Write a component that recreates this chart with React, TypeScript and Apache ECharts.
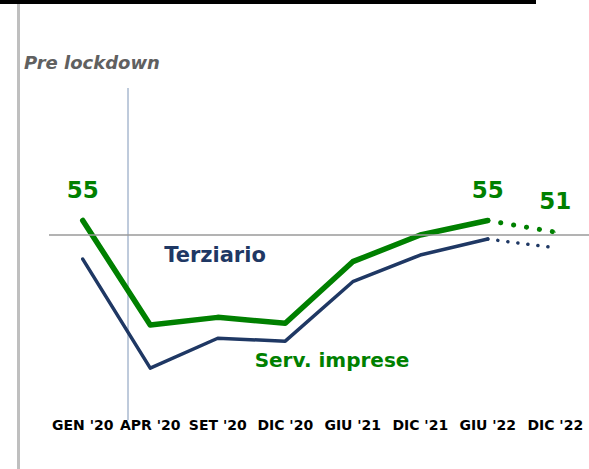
import React, { useEffect, useRef } from "react";
import * as echarts from "echarts";

const categories = ["GEN '20", "APR '20", "SET '20", "DIC '20", "GIU '21", "DIC '21", "GIU '22", "DIC '22"];
const servImprese = [55, 19, 21.6, 19.6, 40.8, 50, 55, 51];
const terziario = [41.7, 4.1, 14.4, 13.4, 33.9, 43.1, 48.6, 45.6];
const labelledPoints = [0, 6, 7];
const forecastFrom = 6;
const preLockdownLevel = 50;

const GREEN = "#008000";
const NAVY = "#1f3864";
const FONT = "DejaVu Sans";

function split(values: number[], solid: boolean, withLabels: boolean) {
  return values.map((v, i) => {
    const inPart = solid ? i <= forecastFrom : i >= forecastFrom;
    if (!inPart) return null;
    const showLabel =
      withLabels &&
      labelledPoints.includes(i) &&
      (solid ? i <= forecastFrom : i > forecastFrom);
    return { value: v, label: { show: showLabel } };
  });
}

export default function App() {
  const ref = useRef<HTMLDivElement>(null);
  useEffect(() => {
    if (!ref.current) return;
    const chart = echarts.init(ref.current, null, { renderer: "svg" });
    const greenLabel = {
      show: false,
      position: "top",
      distance: 19,
      color: GREEN,
      fontFamily: FONT,
      fontWeight: "bold",
      fontSize: 23,
      formatter: (p: any) => String(Math.round(p.value)),
    };
    chart.setOption({
      animation: false,
      grid: { left: 49, right: 0, top: 206, bottom: 89 },
      xAxis: {
        type: "category",
        data: categories,
        boundaryGap: true,
        axisLine: { show: false },
        axisTick: { show: false },
        splitLine: { show: false },
        axisLabel: {
          interval: 0,
          margin: 38,
          color: "#000",
          fontFamily: FONT,
          fontWeight: "bold",
          fontSize: 14,
        },
      },
      yAxis: { type: "value", min: 0, max: 60, show: false },
      series: [
        {
          type: "line",
          data: [],
          z: 1,
          silent: true,
          markLine: {
            silent: true,
            symbol: "none",
            label: { show: false },
            lineStyle: { color: "#9a9a9a", width: 1.5, type: "solid" },
            data: [{ yAxis: preLockdownLevel }],
          },
        },
        {
          name: "Terziario",
          type: "line",
          z: 3,
          data: split(terziario, true, false),
          symbol: "none",
          lineStyle: { color: NAVY, width: 3.5, cap: "round", join: "round" },
        },
        {
          name: "Terziario previsione",
          type: "line",
          z: 3,
          data: split(terziario, false, false),
          symbol: "none",
          lineStyle: { color: NAVY, width: 3.5, type: [0.1, 10], cap: "round" },
        },
        {
          name: "Serv. imprese",
          type: "line",
          z: 4,
          data: split(servImprese, true, true),
          symbol: "circle",
          symbolSize: 1,
          itemStyle: { color: GREEN },
          label: greenLabel,
          lineStyle: { color: GREEN, width: 5.5, cap: "round", join: "round" },
        },
        {
          name: "Serv. imprese previsione",
          type: "line",
          z: 4,
          data: split(servImprese, false, true),
          symbol: "circle",
          symbolSize: 1,
          itemStyle: { color: GREEN },
          label: greenLabel,
          lineStyle: { color: GREEN, width: 5, type: [0.1, 13], cap: "round" },
        },
      ],
      graphic: [
        { type: "rect", shape: { x: 0, y: 0, width: 536, height: 4 }, style: { fill: "#000" } },
        { type: "rect", shape: { x: 17, y: 4, width: 3, height: 465 }, style: { fill: "#bfbfbf" } },
        {
          type: "line",
          shape: { x1: 128, y1: 88, x2: 128, y2: 420 },
          style: { stroke: "#7f96b8", lineWidth: 1 },
          z: 0,
        },
        {
          type: "text",
          x: 24,
          y: 62,
          style: {
            text: "Pre lockdown",
            fill: "#606060",
            fontFamily: FONT,
            fontStyle: "italic",
            fontWeight: "bold",
            fontSize: 18,
            verticalAlign: "middle",
          },
        },
        {
          type: "text",
          x: 215,
          y: 255,
          style: {
            text: "Terziario",
            fill: NAVY,
            fontFamily: FONT,
            fontWeight: "bold",
            fontSize: 21,
            align: "center",
            verticalAlign: "middle",
          },
        },
        {
          type: "text",
          x: 332,
          y: 360,
          style: {
            text: "Serv. imprese",
            fill: GREEN,
            fontFamily: FONT,
            fontWeight: "bold",
            fontSize: 20,
            align: "center",
            verticalAlign: "middle",
          },
        },
      ],
    });
    return () => chart.dispose();
  }, []);
  return (
    <div
      ref={ref}
      style={{ position: "absolute", left: 0, top: 0, width: 589, height: 469, background: "#fff" }}
    />
  );
}
